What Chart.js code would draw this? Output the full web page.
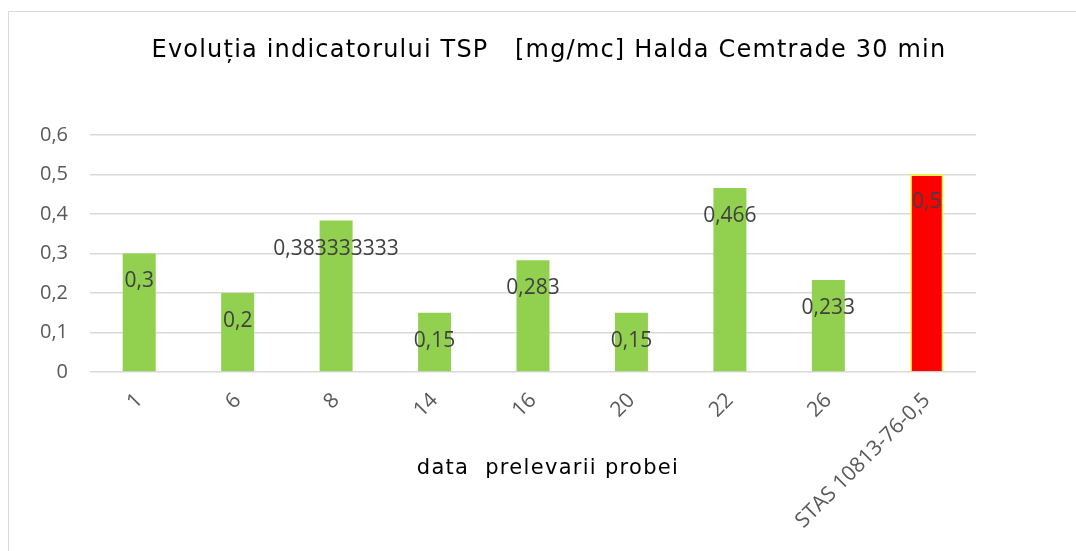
<!DOCTYPE html>
<html>
<head>
<meta charset="utf-8">
<script src="https://cdn.jsdelivr.net/npm/chart.js@4.4.1/dist/chart.umd.min.js"></script>
<style>
  html, body { margin: 0; padding: 0; background: #ffffff; overflow: hidden; }
  #wrap { position: relative; width: 1076px; height: 551px; }
  #frame { position: absolute; left: 8px; top: 11px; width: 1200px; height: 700px; border: 1px solid #d9d9d9; box-sizing: border-box; }
  #c { position: absolute; left: 0; top: 0; }
</style>
</head>
<body>
<div id="wrap">
  <div id="frame"></div>
  <canvas id="c" width="1076" height="551"></canvas>
</div>
<script>
const categories = ["1", "6", "8", "14", "16", "20", "22", "26", "STAS 10813-76-0,5"];
const values = [0.3, 0.2, 0.383333333, 0.15, 0.283, 0.15, 0.466, 0.233, 0.5];
const valueLabels = ["0,3", "0,2", "0,383333333", "0,15", "0,283", "0,15", "0,466", "0,233", "0,5"];
const barColors = ["#92d050", "#92d050", "#92d050", "#92d050", "#92d050", "#92d050", "#92d050", "#92d050", "#ff0000"];
const barBorders = ["#92d050", "#92d050", "#92d050", "#92d050", "#92d050", "#92d050", "#92d050", "#92d050", "#ffff00"];
const borderWidths = [0, 0, 0, 0, 0, 0, 0, 0, 1.5];
const titleText = "Evoluția indicatorului TSP   [mg/mc] Halda Cemtrade 30 min";
const xTitle = "data  prelevarii probei";

const textPlugin = {
  id: 'textPlugin',
  afterDatasetsDraw(chart) {
    const ctx = chart.ctx;
    const meta = chart.getDatasetMeta(0);
    ctx.save();
    ctx.font = '21px "Open Sans"';
    ctx.fillStyle = '#404040';
    ctx.textAlign = 'center';
    ctx.textBaseline = 'middle';
    meta.data.forEach((bar, i) => {
      ctx.fillText(valueLabels[i], bar.x, bar.y + 28);
    });
    ctx.restore();
  },
  afterDraw(chart) {
    const ctx = chart.ctx;
    ctx.save();
    ctx.fillStyle = '#000000';
    ctx.textAlign = 'center';
    ctx.textBaseline = 'middle';
    ctx.font = '24px "DejaVu Sans"';
    ctx.letterSpacing = '1.2px';
    ctx.fillText(titleText, 549, 51);
    ctx.font = '21px "DejaVu Sans"';
    ctx.letterSpacing = '1.3px';
    ctx.fillText(xTitle, 548, 469);
    ctx.restore();
  }
};

new Chart(document.getElementById('c'), {
  type: 'bar',
  data: {
    labels: categories,
    datasets: [{
      data: values,
      backgroundColor: barColors,
      borderColor: barBorders,
      borderWidth: borderWidths,
      barPercentage: 0.335,
      categoryPercentage: 1.0
    }]
  },
  options: {
    responsive: false,
    animation: false,
    devicePixelRatio: 1,
    layout: { padding: { left: 0, right: 100, top: 135, bottom: 0 } },
    plugins: {
      legend: { display: false },
      tooltip: { enabled: false },
      title: { display: false }
    },
    scales: {
      x: {
        grid: { display: false },
        border: { display: false },
        ticks: {
          color: '#595959',
          font: { family: '"Open Sans"', size: 21 },
          minRotation: 45,
          maxRotation: 45,
          padding: 8,
          autoSkip: false
        },
        afterFit(scale) { scale.height = 179; }
      },
      y: {
        min: 0,
        max: 0.6,
        grid: { color: '#d9d9d9', lineWidth: 1.5, drawTicks: false },
        border: { display: false },
        ticks: {
          stepSize: 0.1,
          color: '#595959',
          font: { family: '"Open Sans"', size: 20 },
          padding: 22,
          callback: (v) => (Math.round(v * 10) / 10).toString().replace('.', ',')
        },
        afterFit(scale) { scale.width = 90; }
      }
    }
  },
  plugins: [textPlugin]
});
</script>
</body>
</html>
